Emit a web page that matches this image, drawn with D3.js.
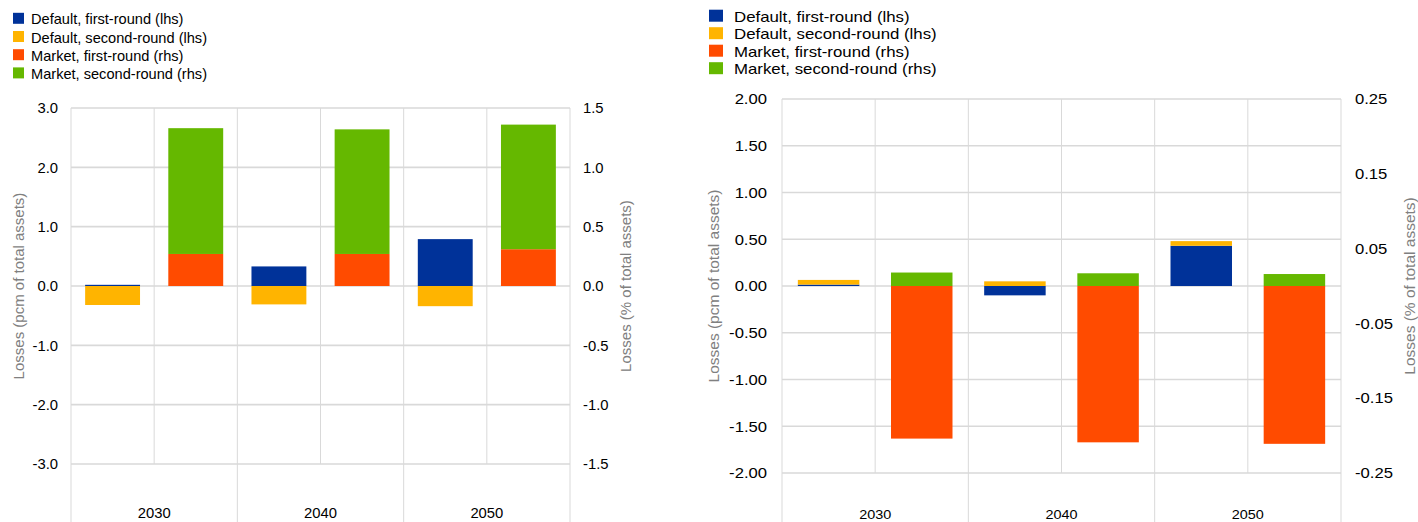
<!DOCTYPE html>
<html>
<head>
<meta charset="utf-8">
<script src="https://cdn.jsdelivr.net/npm/d3@7"></script>
<style>
  html, body { margin: 0; padding: 0; background: #fff; }
  svg { display: block; }
  text { font-family: Arial, "Liberation Sans", sans-serif; }
</style>
</head>
<body>
<svg id="chart" width="1418" height="522"></svg>
<script>
// Categories and series
const categories = ["2030", "2040", "2050"];
const seriesNames = [
  "Default, first-round (lhs)",
  "Default, second-round (lhs)",
  "Market, first-round (rhs)",
  "Market, second-round (rhs)"
];
const seriesColors = ["#003299", "#FFB400", "#FF4B00", "#65B800"];

// Left panel values
const leftDefaultFirst  = [0.02, 0.33, 0.79];     // lhs, pcm
const leftDefaultSecond = [-0.32, -0.31, -0.34];  // lhs, pcm
const leftMarketFirst   = [0.27, 0.27, 0.31];     // rhs, %
const leftMarketSecond  = [1.06, 1.05, 1.05];     // rhs, %
const leftLhsTicks = [3, 2, 1, 0, -1, -2, -3];
const leftRhsTicks = [1.5, 1, 0.5, 0, -0.5, -1, -1.5];

// Right panel values
const rightDefaultFirst  = [0.015, -0.10, 0.43];
const rightDefaultSecond = [0.05, 0.05, 0.05];
const rightMarketFirst   = [-0.204, -0.209, -0.211];
const rightMarketSecond  = [0.018, 0.017, 0.016];
const rightLhsTicks = [2, 1.5, 1, 0.5, 0, -0.5, -1, -1.5, -2];
const rightRhsTicks = [0.25, 0.15, 0.05, -0.05, -0.15, -0.25];

const lhsTitle = "Losses (pcm of total assets)";
const rhsTitle = "Losses (% of total assets)";

const svg = d3.select("#chart");
const gridColor = "#d9d9d9";
const tickColor = "#000";
const titleColor = "#808080";

const panels = [
  {
    lhs: [leftDefaultFirst, leftDefaultSecond], rhs: [leftMarketFirst, leftMarketSecond],
    lhsDomain: [-3, 3], rhsDomain: [-1.5, 1.5], lhsTicks: leftLhsTicks, rhsTicks: leftRhsTicks, dec: 1,
    x0: 71, x1: 570, yTop: 108, yBot: 464, bottom: 522,
    lhsLabelX: 58, rhsLabelX: 583, titleLX: 18.5, titleRX: 626, catY: 513,
    fontSize: 14.8, sx: 1, titleSize: 15, catSize: 14.8,
    legend: { x: 13, y: 19.3, dy: 18.2, w: 11, h: 11, textX: 31, fontSize: 14.6, sx: 1 }
  },
  {
    lhs: [rightDefaultFirst, rightDefaultSecond], rhs: [rightMarketFirst, rightMarketSecond],
    lhsDomain: [-2, 2], rhsDomain: [-0.25, 0.25], lhsTicks: rightLhsTicks, rhsTicks: rightRhsTicks, dec: 2,
    x0: 782, x1: 1341, yTop: 99, yBot: 473, bottom: 522,
    lhsLabelX: 767, rhsLabelX: 1355, titleLX: 714, titleRX: 1410, catY: 514.5,
    fontSize: 15, sx: 1.11, titleSize: 15.5, catSize: 13,
    legend: { x: 709, y: 16.7, dy: 17.5, w: 14, h: 12, textX: 734, fontSize: 14.5, sx: 1.16 }
  }
];

function stretchedText(g, x, y, str, size, sx, anchor, fill) {
  return g.append("text")
    .attr("transform", `translate(${x},${y}) scale(${sx},1)`)
    .attr("text-anchor", anchor)
    .attr("dy", "0.35em")
    .attr("font-size", size)
    .attr("fill", fill)
    .text(str);
}

panels.forEach(p => {
  const g = svg.append("g");

  const xCat = d3.scaleBand().domain(categories).range([p.x0, p.x1]).padding(0);
  const xSide = d3.scaleBand().domain(["lhs", "rhs"]).range([0, xCat.bandwidth()])
    .paddingInner(0.34).paddingOuter(0.17);
  const yL = d3.scaleLinear().domain(p.lhsDomain).range([p.yBot, p.yTop]);
  const yR = d3.scaleLinear().domain(p.rhsDomain).range([p.yBot, p.yTop]);

  // horizontal gridlines
  g.append("g").selectAll("line").data(p.lhsTicks).join("line")
    .attr("x1", p.x0).attr("x2", p.x1)
    .attr("y1", d => yL(d)).attr("y2", d => yL(d))
    .attr("stroke", gridColor).attr("stroke-width", 1.6);

  // vertical gridlines: slot dividers inside the plot, category dividers to the bottom
  const mids = categories.map(c => xCat(c) + xCat.bandwidth() / 2);
  const bounds = categories.map(c => xCat(c)).concat([p.x1]);
  g.append("g").selectAll("line").data(mids).join("line")
    .attr("x1", d => d).attr("x2", d => d)
    .attr("y1", p.yTop).attr("y2", p.yBot)
    .attr("stroke", gridColor).attr("stroke-width", 1);
  g.append("g").selectAll("line").data(bounds).join("line")
    .attr("x1", d => d).attr("x2", d => d)
    .attr("y1", p.yTop).attr("y2", p.bottom)
    .attr("stroke", gridColor).attr("stroke-width", 1);

  // stacked bars
  const stack = d3.stack().keys([0, 1]).value((d, k) => d[k]).offset(d3.stackOffsetDiverging);
  const sides = [
    { side: "lhs", vals: p.lhs, y: yL, colors: [seriesColors[0], seriesColors[1]] },
    { side: "rhs", vals: p.rhs, y: yR, colors: [seriesColors[2], seriesColors[3]] }
  ];
  sides.forEach(s => {
    const rows = categories.map((c, i) => [s.vals[0][i], s.vals[1][i]]);
    const layers = stack(rows);
    layers.forEach((layer, li) => {
      g.append("g").selectAll("rect").data(layer).join("rect")
        .attr("x", (d, i) => xCat(categories[i]) + xSide(s.side))
        .attr("width", xSide.bandwidth())
        .attr("y", d => s.y(Math.max(d[0], d[1])))
        .attr("height", d => Math.abs(s.y(d[0]) - s.y(d[1])))
        .attr("fill", s.colors[li]);
    });
  });

  // tick labels
  p.lhsTicks.forEach(t => stretchedText(g, p.lhsLabelX, yL(t), t.toFixed(p.dec), p.fontSize, p.sx, "end", tickColor));
  p.rhsTicks.forEach(t => stretchedText(g, p.rhsLabelX, yR(t), t.toFixed(p.dec), p.fontSize, p.sx, "start", tickColor));

  // category labels
  categories.forEach(c => stretchedText(g, xCat(c) + xCat.bandwidth() / 2, p.catY, c,
    p.catSize, p.sx, "middle", tickColor));

  // axis titles
  const midY = (p.yTop + p.yBot) / 2;
  [[p.titleLX, lhsTitle], [p.titleRX, rhsTitle]].forEach(([x, str]) => {
    g.append("text")
      .attr("transform", `translate(${x},${midY}) rotate(-90)`)
      .attr("text-anchor", "middle")
      .attr("dy", "0.35em")
      .attr("font-size", p.titleSize)
      .attr("fill", titleColor)
      .text(str);
  });

  // legend
  const L = p.legend;
  seriesNames.forEach((name, i) => {
    const cy = L.y + i * L.dy;
    g.append("rect")
      .attr("x", L.x).attr("y", cy - L.h / 2 - 1)
      .attr("width", L.w).attr("height", L.h)
      .attr("fill", seriesColors[i]);
    stretchedText(g, L.textX, cy, name, L.fontSize, L.sx, "start", "#000");
  });
});
</script>
</body>
</html>
